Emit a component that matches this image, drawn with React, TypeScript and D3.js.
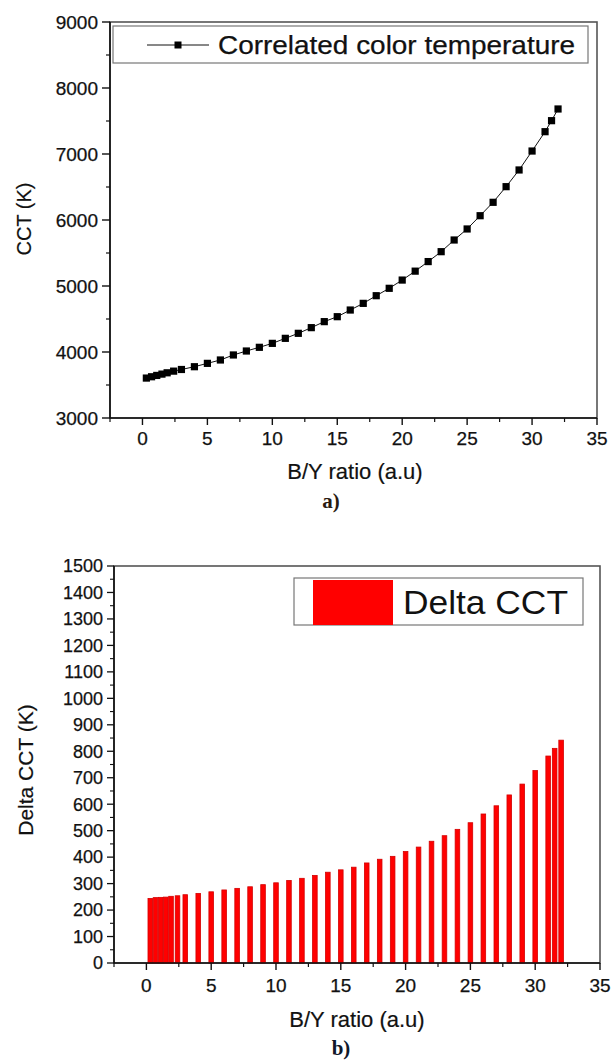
import React from "react";
import * as d3 from "d3";

const ratio = [0.3, 0.7, 1.1, 1.5, 1.9, 2.4, 3, 4, 5, 6, 7, 8, 9, 10, 11, 12, 13, 14, 15, 16, 17, 18, 19, 20, 21, 22, 23, 24, 25, 26, 27, 28, 29, 30, 31, 31.5, 32];
const cct = [3605, 3625, 3645, 3665, 3685, 3710, 3735, 3777, 3828, 3879, 3955, 4015, 4071, 4131, 4207, 4283, 4369, 4460, 4535, 4636, 4737, 4853, 4965, 5090, 5225, 5370, 5520, 5697, 5864, 6065, 6268, 6505, 6758, 7045, 7338, 7505, 7682];
const deltaCct = [244, 247, 248, 249, 252, 254, 258, 263, 269, 276, 282, 288, 296, 303, 312, 320, 331, 343, 352, 362, 378, 392, 403, 421, 438, 460, 481, 505, 530, 563, 594, 635, 676, 727, 782, 811, 842];

const xTicks = [0, 5, 10, 15, 20, 25, 30, 35];
const xMinor = [-2.5, 2.5, 7.5, 12.5, 17.5, 22.5, 27.5, 32.5];
const yTopTicks = [3000, 4000, 5000, 6000, 7000, 8000, 9000];
const yTopMinor = [3500, 4500, 5500, 6500, 7500, 8500];
const yBotTicks = d3.range(0, 1501, 100);
const yBotMinor = d3.range(50, 1500, 100);

const FONT = "'Liberation Sans', Arial, sans-serif";

export default function App() {
  const xT = d3.scaleLinear().domain([-2.5, 35]).range([110, 597]);
  const yT = d3.scaleLinear().domain([3000, 9000]).range([418, 22]);
  const xB = d3.scaleLinear().domain([-2.5, 35]).range([114, 600]);
  const yB = d3.scaleLinear().domain([0, 1500]).range([963, 566]);

  const line = d3.line<number>().x((_, i) => xT(ratio[i])).y((d) => yT(d));

  return (
    <svg width={614} height={1061} style={{ position: "absolute", left: 0, top: 0, background: "#fff" }} fontFamily={FONT}>
      {/* ===== Top chart ===== */}
      <g>
        <rect x={110} y={22} width={487} height={396} fill="none" stroke="#555" strokeWidth={1.6} />
        <line x1={110} x2={110} y1={22} y2={418} stroke="#111" strokeWidth={1.6} />
        <line x1={110} x2={597} y1={418} y2={418} stroke="#111" strokeWidth={1.6} />
        {yTopTicks.map((t) => (
          <g key={"yt" + t}>
            <line x1={102} x2={110} y1={yT(t)} y2={yT(t)} stroke="#111" strokeWidth={1.4} />
            <text x={98} y={yT(t)} dy="0.35em" textAnchor="end" fontSize={19} fill="#111" stroke="#111" strokeWidth={0.25}>{t}</text>
          </g>
        ))}
        {yTopMinor.map((t) => (
          <line key={"ytm" + t} x1={106} x2={110} y1={yT(t)} y2={yT(t)} stroke="#111" strokeWidth={1.2} />
        ))}
        {xTicks.map((t) => (
          <g key={"xt" + t}>
            <line x1={xT(t)} x2={xT(t)} y1={418} y2={425} stroke="#111" strokeWidth={1.4} />
            <text x={xT(t)} y={438} dy="0.35em" textAnchor="middle" fontSize={19} fill="#111" stroke="#111" strokeWidth={0.25}>{t}</text>
          </g>
        ))}
        {xMinor.map((t) => (
          <line key={"xtm" + t} x1={xT(t)} x2={xT(t)} y1={418} y2={422} stroke="#111" strokeWidth={1.2} />
        ))}
        <path d={line(cct) || ""} fill="none" stroke="#111" strokeWidth={1} />
        {cct.map((v, i) => (
          <rect key={"m" + i} x={xT(ratio[i]) - 3.6} y={yT(v) - 3.6} width={7.2} height={7.2} fill="#000" />
        ))}
        {/* legend */}
        <rect x={113} y={26} width={475} height={37} fill="#fff" stroke="#777" strokeWidth={1.2} />
        <line x1={147} x2={209} y1={45} y2={45} stroke="#111" strokeWidth={1} />
        <rect x={174.5} y={41.5} width={7} height={7} fill="#000" />
        <text x={218} y={45} dy="0.35em" fontSize={25} fill="#111" stroke="#111" strokeWidth={0.25} textLength={357} lengthAdjust="spacingAndGlyphs">Correlated color temperature</text>
        <text transform={`translate(24,${219}) rotate(-90)`} textAnchor="middle" dy="0.35em" fontSize={20} fill="#111" stroke="#111" strokeWidth={0.2}>CCT (K)</text>
        <text x={355} y={471} dy="0.35em" textAnchor="middle" fontSize={22} fill="#111" stroke="#111" strokeWidth={0.2}>B/Y ratio (a.u)</text>
        <text x={331} y={501} dy="0.35em" textAnchor="middle" fontSize={21} fontWeight="bold" fontFamily="'Liberation Serif', 'Times New Roman', serif" fill="#2a1a10">a)</text>
      </g>

      {/* ===== Bottom chart ===== */}
      <g>
        <rect x={114} y={566} width={486} height={397} fill="none" stroke="#555" strokeWidth={1.6} />
        {deltaCct.map((v, i) => (
          <rect key={"b" + i} x={xB(ratio[i]) - 2.3} y={yB(v)} width={4.6} height={yB(0) - yB(v)} fill="#ff0000" stroke="#d40000" strokeWidth={0.8} />
        ))}
        <line x1={114} x2={114} y1={566} y2={963} stroke="#111" strokeWidth={1.6} />
        <line x1={114} x2={600} y1={963} y2={963} stroke="#111" strokeWidth={1.6} />
        {yBotTicks.map((t) => (
          <g key={"yb" + t}>
            <line x1={107} x2={114} y1={yB(t)} y2={yB(t)} stroke="#111" strokeWidth={1.3} />
            <text x={103} y={yB(t)} dy="0.35em" textAnchor="end" fontSize={18} fill="#111" stroke="#111" strokeWidth={0.25}>{t}</text>
          </g>
        ))}
        {yBotMinor.map((t) => (
          <line key={"ybm" + t} x1={110} x2={114} y1={yB(t)} y2={yB(t)} stroke="#111" strokeWidth={1.1} />
        ))}
        {xTicks.map((t) => (
          <g key={"xb" + t}>
            <line x1={xB(t)} x2={xB(t)} y1={963} y2={970} stroke="#111" strokeWidth={1.4} />
            <text x={xB(t)} y={985} dy="0.35em" textAnchor="middle" fontSize={19} fill="#111" stroke="#111" strokeWidth={0.25}>{t}</text>
          </g>
        ))}
        {xMinor.map((t) => (
          <line key={"xbm" + t} x1={xB(t)} x2={xB(t)} y1={963} y2={967} stroke="#111" strokeWidth={1.2} />
        ))}
        {/* legend */}
        <rect x={294} y={578} width={289} height={47} fill="#fff" stroke="#777" strokeWidth={1.2} />
        <rect x={313} y={580} width={80} height={45} fill="#ff0000" />
        <text x={403} y={602} dy="0.35em" fontSize={34} fill="#111" textLength={165} lengthAdjust="spacingAndGlyphs">Delta CCT</text>
        <text transform={`translate(26,${770}) rotate(-90)`} textAnchor="middle" dy="0.35em" fontSize={21} fill="#111" stroke="#111" strokeWidth={0.2}>Delta CCT (K)</text>
        <text x={357} y={1019} dy="0.35em" textAnchor="middle" fontSize={22} fill="#111" stroke="#111" strokeWidth={0.2}>B/Y ratio (a.u)</text>
        <text x={341} y={1048} dy="0.35em" textAnchor="middle" fontSize={21} fontWeight="bold" fontFamily="'Liberation Serif', 'Times New Roman', serif" fill="#10182a">b)</text>
      </g>
    </svg>
  );
}
